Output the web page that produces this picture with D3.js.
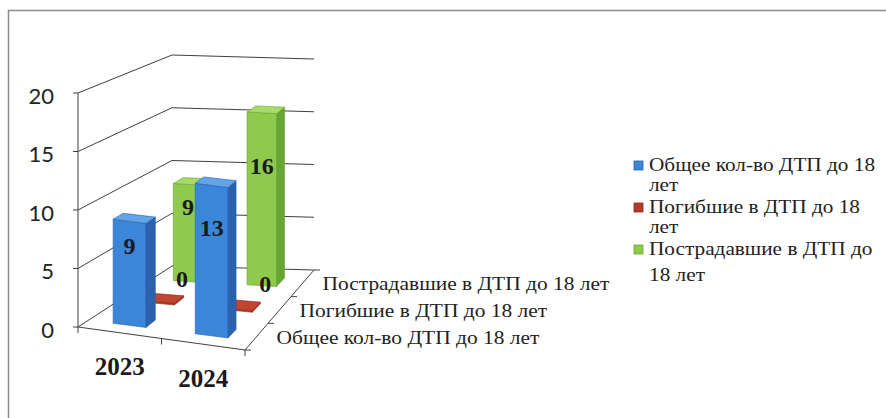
<!DOCTYPE html>
<html>
<head>
<meta charset="utf-8">
<script src="https://cdn.jsdelivr.net/npm/d3@7"></script>
<style>
  body { margin: 0; background: #fff; }
  svg { display: block; }
</style>
</head>
<body>
<div id="chart"></div>
<script>
// данные диаграммы
const categories = ["2023", "2024"]
const seriesNames = ["Общее кол-во ДТП до 18 лет", "Погибшие в ДТП до 18 лет", "Пострадавшие в ДТП до 18 лет"]
const totalValues = [9, 13]
const killedValues = [0, 0]
const injuredValues = [9, 16]
const yTicks = [0, 5, 10, 15, 20]
const legendLines = [["Общее кол-во ДТП до 18", "лет"], ["Погибшие в ДТП до 18", "лет"], ["Пострадавшие в ДТП до", "18 лет"]]

const seriesValues = [totalValues, killedValues, injuredValues]
const colors = [
    { front: "#3b86d8", side: "#2a62ad", top: "#63a3e8" },
    { front: "#b53a2a", side: "#8f2c1f", top: "#c2452f" },
    { front: "#8ecb4c", side: "#69a533", top: "#a8db6c" }
]
const serif = "'Liberation Serif', 'Times New Roman', serif"

let width = 886, height = 418

let svg = d3.select("#chart")
    .append("svg")
    .attr("width", width)
    .attr("height", height)

// рамка (только верх и левый край видны на скане)
svg.append("line")
    .attr("x1", 8).attr("y1", 10.5).attr("x2", 886).attr("y2", 10.5)
    .attr("stroke", "#8a8a8a").attr("stroke-width", 1.5)
svg.append("line")
    .attr("x1", 8.5).attr("y1", 10).attr("x2", 8.5).attr("y2", 418)
    .attr("stroke", "#8a8a8a").attr("stroke-width", 1.5)

// псевдо-3D: углы пола и высота стенок спереди/сзади
let FL = [78, 327], FR = [245, 350], BL = [172, 266], BR = [314, 270]
let Hfront = 234, Hback = 211

let uScale = d3.scaleBand().domain(categories).range([0, 1]).paddingInner(0.6).paddingOuter(0.3)
let vScale = d3.scaleBand().domain(seriesNames).range([0, 1]).paddingInner(0.67).paddingOuter(0.335)
let yScale = d3.scaleLinear().domain([0, 20]).range([0, 1])

function P(u, v, val) {
    let fx = FL[0] + (FR[0] - FL[0]) * u, fy = FL[1] + (FR[1] - FL[1]) * u
    let bx = BL[0] + (BR[0] - BL[0]) * u, by = BL[1] + (BR[1] - BL[1]) * u
    let x = fx + (bx - fx) * v, y = fy + (by - fy) * v
    let h = (Hfront + (Hback - Hfront) * v) * yScale(val)
    return [x, y - h]
}

let poly = d3.line()
function quad(pts) { return poly(pts) + "Z" }

// текст, растянутый по ширине как на скане
function wideText(x, y, str, size, sx) {
    return svg.append("text")
        .attr("transform", "translate(" + x + "," + y + ") scale(" + sx + ",1)")
        .style("font-family", serif)
        .style("font-size", size + "px")
        .style("fill", "#222")
        .text(str)
}

let gridColor = "#404040"

// сетка на левой и задней стенке
yTicks.forEach(function (t) {
    svg.append("path")
        .attr("d", poly([P(0, 0, t), P(0, 1, t), P(1, 1, t)]))
        .attr("fill", "none")
        .attr("stroke", gridColor)
        .attr("stroke-width", 1)
})

// вертикальная ось + деления + подписи
svg.append("path")
    .attr("d", poly([P(0, 0, 0), P(0, 0, 20)]))
    .attr("stroke", gridColor).attr("fill", "none")
yTicks.forEach(function (t) {
    let p = P(0, 0, t)
    svg.append("line")
        .attr("x1", p[0] - 5).attr("y1", p[1]).attr("x2", p[0]).attr("y2", p[1])
        .attr("stroke", gridColor)
    svg.append("text")
        .attr("x", 54)
        .attr("y", p[1] + 2)
        .attr("text-anchor", "end")
        .attr("dominant-baseline", "central")
        .style("font-family", "Lato, 'Open Sans', sans-serif")
        .style("font-size", "22px")
        .style("fill", "#222")
        .text(t)
})

// края пола: передний и правый (ось рядов)
svg.append("path")
    .attr("d", poly([P(0, 0, 0), P(1, 0, 0), P(1, 1, 0)]))
    .attr("stroke", gridColor).attr("fill", "none")
;[0, 0.5, 1].forEach(function (u) {
    let p = P(u, 0, 0)
    svg.append("line")
        .attr("x1", p[0]).attr("y1", p[1]).attr("x2", p[0]).attr("y2", p[1] + 6)
        .attr("stroke", gridColor)
})
;[0, 1 / 3, 2 / 3, 1].forEach(function (v) {
    let p = P(1, v, 0)
    svg.append("line")
        .attr("x1", p[0]).attr("y1", p[1]).attr("x2", p[0] + 6).attr("y2", p[1])
        .attr("stroke", gridColor)
})

// столбцы: рисуем от дальнего ряда к ближнему
for (let s = seriesNames.length - 1; s >= 0; s--) {
    let v0 = vScale(seriesNames[s]), v1 = v0 + vScale.bandwidth()
    categories.forEach(function (c, i) {
        let val = seriesValues[s][i]
        let hv = Math.max(val, 0.15)
        let u0 = uScale(c), u1 = u0 + uScale.bandwidth()
        let g = svg.append("g").attr("class", "bar3d")
        g.append("path")
            .attr("d", quad([P(u0, v0, 0), P(u1, v0, 0), P(u1, v0, hv), P(u0, v0, hv)]))
            .attr("fill", colors[s].front)
            .attr("stroke", colors[s].side).attr("stroke-width", 0.6)
        g.append("path")
            .attr("d", quad([P(u1, v0, 0), P(u1, v1, 0), P(u1, v1, hv), P(u1, v0, hv)]))
            .attr("fill", colors[s].side)
            .attr("stroke", colors[s].side).attr("stroke-width", 0.6)
        g.append("path")
            .attr("d", quad([P(u0, v0, hv), P(u1, v0, hv), P(u1, v1, hv), P(u0, v1, hv)]))
            .attr("fill", colors[s].top)
            .attr("stroke", colors[s].side).attr("stroke-width", 0.6)
    })
}

// подписи значений поверх всего (нули погибших стоят глубже, как в Excel)
seriesNames.forEach(function (name, s) {
    let vf = vScale(name)
    categories.forEach(function (c, i) {
        let val = seriesValues[s][i]
        let uc = uScale(c) + uScale.bandwidth() / 2
        let p = s === 1
            ? P(uc, vf + vScale.bandwidth() * 2, 0.9)
            : P(uc, vf, 0.6 * val + 1.5)
        svg.append("text")
            .attr("x", p[0] + (s === 1 ? 4 + i * 8 : 0))
            .attr("y", p[1])
            .attr("text-anchor", "middle")
            .attr("dominant-baseline", "central")
            .style("font-family", serif)
            .style("font-weight", "bold")
            .style("font-size", "24px")
            .style("fill", "#1a1a1a")
            .text(val)
    })
})

// подписи категорий
categories.forEach(function (c) {
    let p = P(uScale(c) + uScale.bandwidth() / 2, 0, 0)
    svg.append("text")
        .attr("x", p[0])
        .attr("y", p[1] + 34)
        .attr("text-anchor", "middle")
        .attr("dominant-baseline", "central")
        .style("font-family", serif)
        .style("font-weight", "bold")
        .style("font-size", "25px")
        .style("fill", "#1a1a1a")
        .text(c)
})

// подписи рядов по оси глубины
seriesNames.forEach(function (name) {
    let p = P(1, vScale(name) + vScale.bandwidth() / 2, 0)
    wideText(p[0] + 20, p[1] + 7, name, 19.5, 1.1)
})

// легенда
let legendTop = [171, 213, 255]
legendLines.forEach(function (lines, s) {
    svg.append("rect")
        .attr("x", 634)
        .attr("y", legendTop[s] - 10)
        .attr("width", 9)
        .attr("height", 9)
        .attr("fill", colors[s].front)
        .attr("stroke", colors[s].side)
        .attr("stroke-width", 0.8)
    lines.forEach(function (line, k) {
        wideText(649, legendTop[s] + k * (s === 2 ? 26 : 20), line, 19, 1.12)
    })
})
</script>
</body>
</html>
